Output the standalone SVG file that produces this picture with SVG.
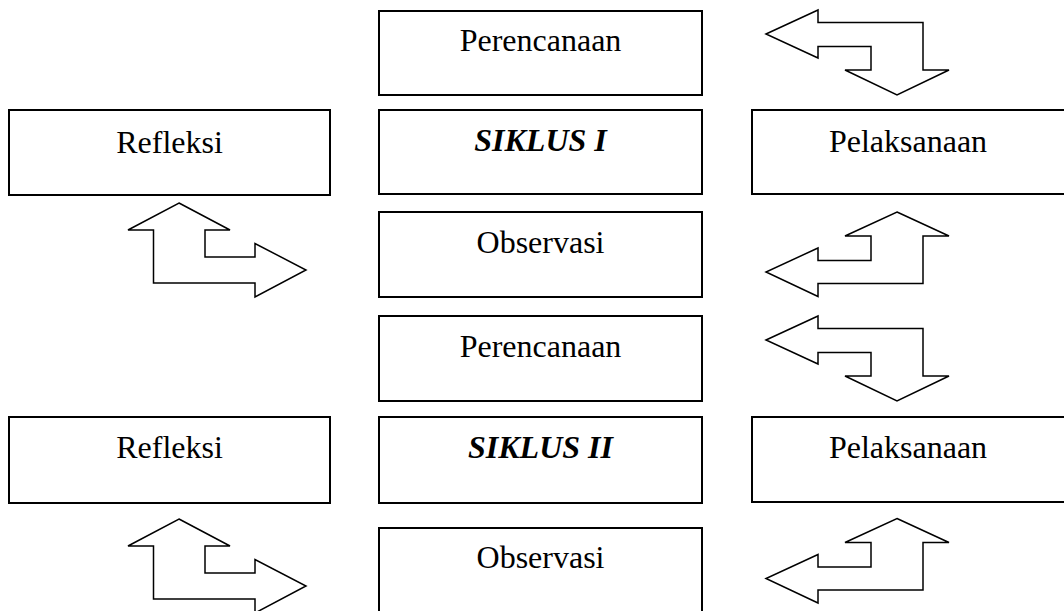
<svg xmlns="http://www.w3.org/2000/svg" width="1064" height="611" viewBox="0 0 1064 611">
<style>
.box{fill:#fff;stroke:#000;stroke-width:2}
.t{font-family:"Liberation Serif","Times New Roman",serif;font-size:32px;text-anchor:middle;fill:#000}
.b{font-weight:bold;font-style:italic}
.arr{fill:#fff;stroke:#000;stroke-width:1.5;stroke-linejoin:miter}
</style>
<rect width="1064" height="611" fill="#fff"/>
<g id="perencanaan1"><rect class="box" x="379" y="11" width="323" height="84"/><text class="t" x="540.5" y="51">Perencanaan</text></g>
<g id="siklus1"><rect class="box" x="379" y="110" width="323" height="84"/><text class="t b" x="540.5" y="151">SIKLUS I</text></g>
<g id="observasi1"><rect class="box" x="379" y="212" width="323" height="85"/><text class="t" x="540.5" y="253">Observasi</text></g>
<g id="refleksi1"><rect class="box" x="9" y="110" width="321" height="85"/><text class="t" x="169.5" y="153">Refleksi</text></g>
<g id="pelaksanaan1"><rect class="box" x="752" y="110" width="314" height="84"/><text class="t" x="908" y="152">Pelaksanaan</text></g>
<g id="perencanaan2"><rect class="box" x="379" y="316" width="323" height="85"/><text class="t" x="540.5" y="357">Perencanaan</text></g>
<g id="siklus2"><rect class="box" x="379" y="417" width="323" height="86"/><text class="t b" x="540.5" y="458">SIKLUS II</text></g>
<g id="observasi2"><rect class="box" x="379" y="528" width="323" height="90"/><text class="t" x="540.5" y="568">Observasi</text></g>
<g id="refleksi2"><rect class="box" x="9" y="417" width="321" height="86"/><text class="t" x="169.5" y="458">Refleksi</text></g>
<g id="pelaksanaan2"><rect class="box" x="752" y="417" width="314" height="85"/><text class="t" x="908" y="458">Pelaksanaan</text></g>
<g id="connectors">
<defs>
<path id="arrA" d="M766,34 L818,10 L818,22.5 L923,22.5 L923,70 L949,70 L897,95 L845,70 L871,70 L871,46.5 L818,46.5 L818,58 Z"/>
<path id="arrB" d="M179,203 L230,230 L205,230 L205,257 L255,257 L255,243.5 L306,270 L255,297 L255,283 L153.5,283 L153.5,230 L128,230 Z"/>
<path id="arrC" d="M897,212 L949,236 L923,236 L923,283.5 L818,283.5 L818,296.5 L766,272 L818,248 L818,260.5 L871,260.5 L871,236 L845,236 Z"/>
</defs>
<use href="#arrA" class="arr"/>
<use href="#arrA" class="arr" transform="translate(0,306)"/>
<use href="#arrB" class="arr"/>
<use href="#arrB" class="arr" transform="translate(0,316)"/>
<use href="#arrC" class="arr"/>
<use href="#arrC" class="arr" transform="translate(0,306.5)"/>
</g>
</svg>
